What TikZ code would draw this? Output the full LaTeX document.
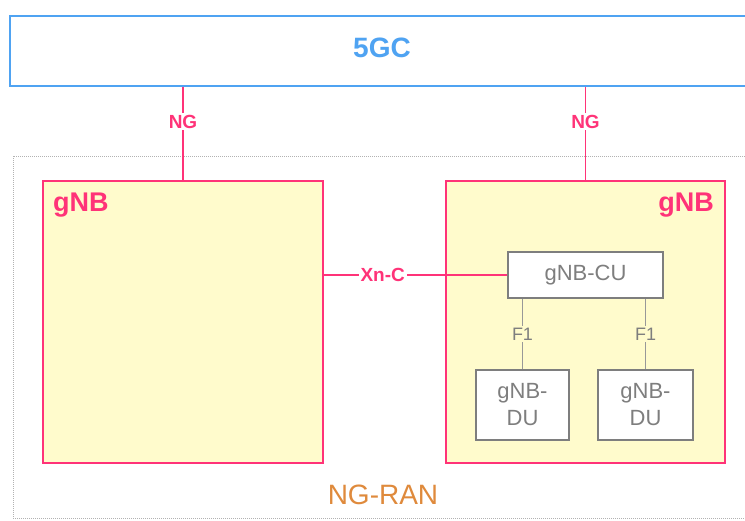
\documentclass[tikz,border=0pt]{standalone}
\usepackage{fontspec}
\setmainfont{Liberation Sans}
\usepackage{xcolor}
\usetikzlibrary{positioning,calc}
\definecolor{coreblue}{HTML}{4FA3F2}
\definecolor{nbpink}{HTML}{FF3378}
\definecolor{nbfill}{HTML}{FFFBCC}
\definecolor{ranorange}{HTML}{DF8A3C}
\definecolor{unitgray}{HTML}{7E7E7E}
\tikzset{
  corebox/.style={draw=coreblue,line width=2.5pt,fill=white,minimum width=750pt,minimum height=70pt,inner sep=0pt},
  ranbox/.style={draw=unitgray!60,densely dotted,line width=1pt,minimum width=747pt,minimum height=362pt,inner sep=0pt},
  gnbbox/.style={draw=nbpink,line width=2.2pt,fill=nbfill,minimum height=282pt,inner sep=0pt},
  unitbox/.style={draw=unitgray,line width=1.6pt,fill=white,inner sep=0pt,align=center,font=\fontsize{22}{27}\selectfont,text=unitgray},
  ifline/.style={draw=nbpink,line width=1.2pt},
  ifname/.style={font=\fontsize{19}{19}\selectfont\bfseries,text=nbpink,fill=white,inner sep=2pt},
  f1line/.style={draw=unitgray!80,line width=1.2pt},
  f1name/.style={font=\fontsize{18}{18}\selectfont,text=unitgray,fill=nbfill,inner sep=2pt}
}
\begin{document}
\begin{tikzpicture}[x=1pt,y=-1pt]
\useasboundingbox (0,0) rectangle (745,520);
\node[ranbox] (ran) at (386.5,337) {};
\node[font=\fontsize{28}{28}\selectfont,text=ranorange] (ranlbl) at (383,495) {NG-RAN};
\node[corebox] (core) at (385,51) {};
\node[font=\fontsize{28}{28}\selectfont\bfseries,text=coreblue] (corelbl) at (382,48) {5GC};
% the two gNBs
\node[gnbbox,minimum width=280pt] (gnbL) at (183,322) {};
\node[gnbbox,minimum width=279pt] (gnbR) at (585.5,322) {};
\node[font=\fontsize{27}{27}\selectfont\bfseries,text=nbpink,anchor=north west,inner sep=0pt] (gnbLlbl) at (53,193) {gNB};
\node[font=\fontsize{27}{27}\selectfont\bfseries,text=nbpink,anchor=north east,inner sep=0pt] (gnbRlbl) at (714,193) {gNB};
% CU and DUs
\node[unitbox,minimum width=155pt,minimum height=46pt] (cu) at (585.5,275) {gNB-CU};
\node[unitbox,minimum width=93pt,minimum height=70pt] (du1) at (522.5,405) {gNB-\\DU};
\node[unitbox,minimum width=95pt,minimum height=70pt] (du2) at (645.5,405) {gNB-\\DU};
% interfaces
\foreach \g in {gnbL,gnbR}{\draw[ifline] (core.south -| \g.north) -- (\g.north) node[ifname,pos=0.37] {NG};}
\draw[ifline] (gnbL.east |- cu.west) -- (cu.west) node[ifname,pos=0.32] {Xn-C};
\foreach \d in {du1,du2}{\draw[f1line] (cu.south -| \d.north) -- (\d.north) node[f1name,midway] {F1};}
\end{tikzpicture}
\end{document}
